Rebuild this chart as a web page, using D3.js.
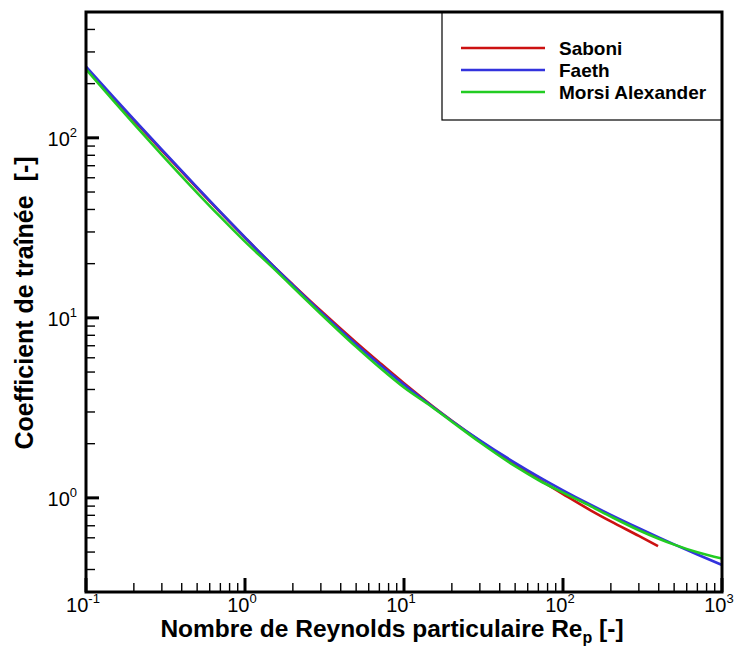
<!DOCTYPE html>
<html>
<head>
<meta charset="utf-8">
<script src="https://cdn.jsdelivr.net/npm/d3@7"></script>
<style>
  html, body { margin: 0; padding: 0; background: #fff; }
  svg { display: block; font-family: "Liberation Sans", Arial, sans-serif; }
</style>
</head>
<body>
<svg id="chart" width="736" height="648"></svg>
<script>
// ---- data ----
const reynolds = [0.1,0.15,0.2,0.3,0.5,0.7,1,1.5,2,3,5,7,10,15,20,30,50,70,100,150,200,300,400,500,700,1000];
const faeth    = [248.6,167.5,126.8,85.97,53.04,38.79,28.0,19.49,15.17,10.77,7.139,5.519,4.257,3.222,2.674,2.087,1.566,1.313,1.102,0.913,0.804,0.678,0.603,0.552,0.485,0.424];
const morsi    = [240.0,159.2,119.6,80.46,49.51,36.35,26.50,18.94,14.83,10.51,6.90,5.309,4.10,3.198,2.650,2.037,1.500,1.257,1.070,0.897,0.787,0.661,0.593,0.550,0.499,0.460];
const reynoldsSaboni = [0.1,0.15,0.2,0.3,0.5,0.7,1,1.5,2,3,5,7,10,15,20,30,50,70,100,150,200,300,396];
const saboni   = [245,165,125,85,52.5,38.5,27.9,19.5,15.3,10.95,7.3,5.65,4.33,3.25,2.68,2.07,1.53,1.27,1.05,0.85,0.74,0.615,0.54];
const seriesNames = ["Saboni","Faeth","Morsi Alexander"];
const seriesColors = ["#cc1111","#3333dd","#22cc22"];
const xDecades = [-1,0,1,2,3];
const yDecades = [0,1,2];
const xTitle = "Nombre de Reynolds particulaire Re";
const xTitleSub = "p";
const xTitleEnd = " [-]";
const yTitle = "Coefficient de traînée  [-]";

// ---- layout ----
const L = 86, R = 722, T = 12, B = 592;
const svg = d3.select("#chart");
const x = d3.scaleLog().domain([0.1, 1000]).range([L, R]);
const y = d3.scaleLog().domain([0.3, 500]).range([B, T]);

// clip
svg.append("defs").append("clipPath").attr("id","plotclip")
  .append("rect").attr("x", L).attr("y", T).attr("width", R-L).attr("height", B-T);

// curves
const line = d3.line().x(d => x(d[0])).y(d => y(d[1])).curve(d3.curveMonotoneX);
const datasets = [
  reynoldsSaboni.map((r,i) => [r, saboni[i]]),
  reynolds.map((r,i) => [r, faeth[i]]),
  reynolds.map((r,i) => [r, morsi[i]])
];
const gc = svg.append("g").attr("clip-path","url(#plotclip)");
datasets.forEach((ds, i) => {
  gc.append("path").attr("d", line(ds)).attr("fill","none")
    .attr("stroke", seriesColors[i]).attr("stroke-width", 2.6);
});

// ticks (inward)
const gt = svg.append("g").attr("stroke","#000");
x.ticks().forEach(v => {
  const lg = Math.log10(v);
  const major = Math.abs(lg - Math.round(lg)) < 1e-9;
  const px = x(v);
  gt.append("line").attr("x1", px).attr("x2", px)
    .attr("y1", B).attr("y2", B - (major ? 14 : 9))
    .attr("stroke-width", major ? 3 : 1.4);
});
y.ticks().forEach(v => {
  const lg = Math.log10(v);
  const major = Math.abs(lg - Math.round(lg)) < 1e-9;
  const py = y(v);
  gt.append("line").attr("y1", py).attr("y2", py)
    .attr("x1", L).attr("x2", L + (major ? 13 : 9))
    .attr("stroke-width", major ? 3 : 1.4);
});

// legend box
svg.append("rect").attr("x", 442).attr("y", T).attr("width", R - 442).attr("height", 120 - T)
  .attr("fill","#fff").attr("stroke","#000").attr("stroke-width",1.2);
seriesNames.forEach((n,i) => {
  const ly = 48 + i*22;
  svg.append("line").attr("x1",461).attr("x2",545).attr("y1",ly).attr("y2",ly)
    .attr("stroke", seriesColors[i]).attr("stroke-width",2.6);
  svg.append("text").attr("x",559).attr("y",ly+7).attr("font-size",19).attr("font-weight","bold")
    .attr("fill","#000").text(n);
});

// frame
svg.append("rect").attr("x", L).attr("y", T).attr("width", R-L).attr("height", B-T)
  .attr("fill","none").attr("stroke","#000").attr("stroke-width",3);

// x tick labels
xDecades.forEach(e => {
  const t = svg.append("text").attr("x", x(Math.pow(10,e)) - 3).attr("y", 612)
    .attr("text-anchor","middle").attr("font-size",20).attr("fill","#000");
  t.append("tspan").text("10");
  t.append("tspan").attr("dy",-9).attr("font-size",13).text(String(e));
});
// y tick labels
yDecades.forEach(e => {
  const t = svg.append("text").attr("x", 77).attr("y", y(Math.pow(10,e)) + 8)
    .attr("text-anchor","end").attr("font-size",20).attr("fill","#000");
  t.append("tspan").text("10");
  t.append("tspan").attr("dy",-9).attr("font-size",13).text(String(e));
});

// axis titles
const xt = svg.append("text").attr("x", 392).attr("y", 637).attr("text-anchor","middle")
  .attr("font-size",24.5).attr("font-weight","bold").attr("fill","#000");
xt.append("tspan").text(xTitle);
xt.append("tspan").attr("dy",6).attr("font-size",16).text(xTitleSub);
xt.append("tspan").attr("dy",-6).text(xTitleEnd);

svg.append("text").attr("transform","translate(33,303) rotate(-90)").attr("text-anchor","middle")
  .attr("font-size",25).attr("font-weight","bold").attr("fill","#000")
  .attr("xml:space","preserve").style("white-space","pre").text(yTitle);
</script>
</body>
</html>
